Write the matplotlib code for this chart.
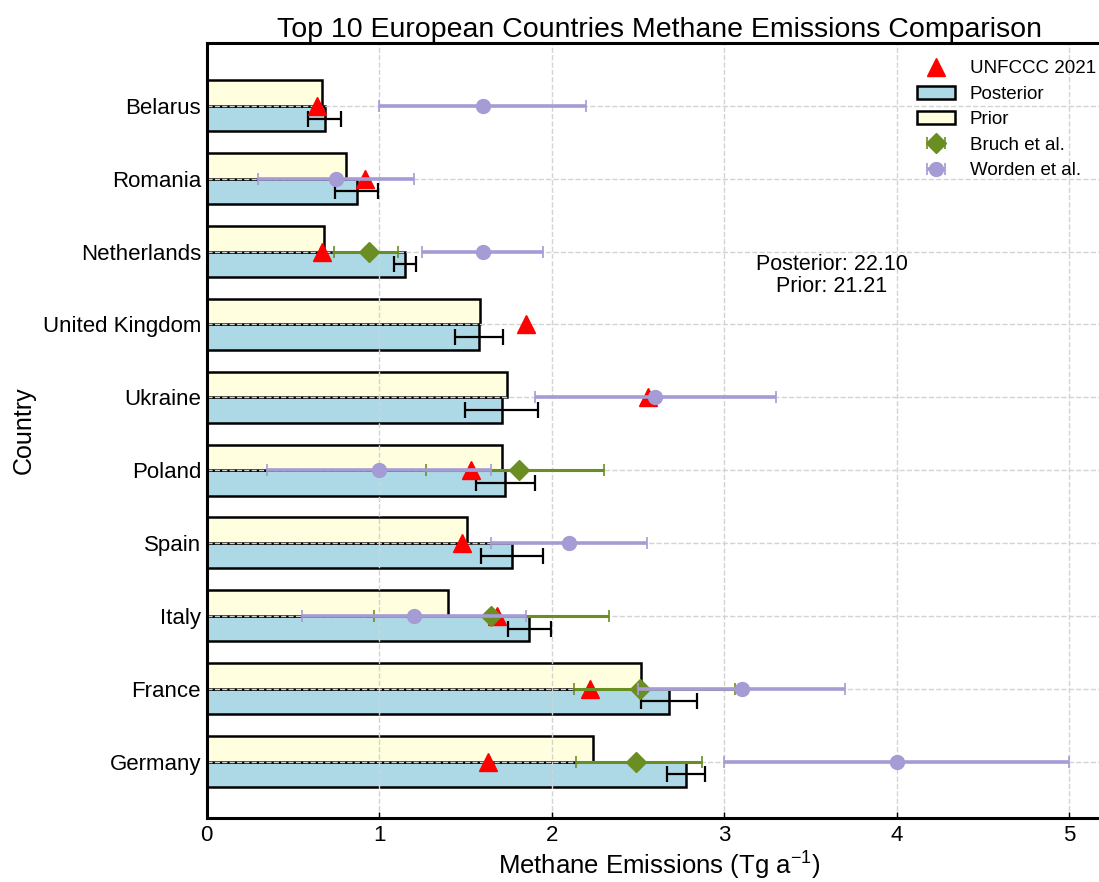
import numpy as np
import matplotlib
matplotlib.use('Agg')
import matplotlib.pyplot as plt

plt.rcParams['font.family'] = ['Liberation Sans', 'DejaVu Sans']
plt.rcParams['mathtext.fontset'] = 'custom'
plt.rcParams['mathtext.rm'] = 'Liberation Sans'
plt.rcParams['mathtext.it'] = 'Liberation Sans:italic'

# ------------------------------------------------------------
# data (bottom -> top)
# ------------------------------------------------------------
countries = ['Germany', 'France', 'Italy', 'Spain', 'Poland',
             'Ukraine', 'United Kingdom', 'Netherlands', 'Romania', 'Belarus']

posterior = [2.78, 2.68, 1.87, 1.77, 1.73, 1.71, 1.58, 1.15, 0.87, 0.685]
posterior_err = [0.11, 0.16, 0.125, 0.18, 0.17, 0.21, 0.14, 0.063, 0.125, 0.095]
prior = [2.24, 2.52, 1.40, 1.51, 1.71, 1.74, 1.585, 0.68, 0.81, 0.67]

unfccc = [1.63, 2.22, 1.68, 1.48, 1.53, 2.555, 1.85, 0.67, 0.92, 0.64]

nan = np.nan
bruch = [2.49, 2.51, 1.65, nan, 1.81, nan, nan, 0.94, nan, nan]
bruch_lo = [0.35, 0.38, 0.68, nan, 0.54, nan, nan, 0.20, nan, nan]
bruch_hi = [0.38, 0.55, 0.68, nan, 0.49, nan, nan, 0.17, nan, nan]

worden = [4.0, 3.1, 1.2, 2.1, 1.0, 2.6, nan, 1.6, 0.75, 1.6]
worden_err = [1.0, 0.6, 0.65, 0.45, 0.65, 0.7, nan, 0.35, 0.45, 0.6]

posterior_total = 22.10
prior_total = 21.21

# ------------------------------------------------------------
# plot
# ------------------------------------------------------------
fig = plt.figure(figsize=(10.99, 8.82), dpi=100)
ax = fig.add_axes([0.188, 0.073, 0.8244, 0.878])

y = np.arange(len(countries))
h = 0.35

post_bars = ax.bar(0, h, width=posterior, bottom=y - h, align='edge', orientation='horizontal',
                   color='lightblue', edgecolor='black', linewidth=1.8, label='Posterior', zorder=1)
prior_bars = ax.bar(0, h, width=prior, bottom=y, align='edge', orientation='horizontal',
                    color='lightyellow', edgecolor='black', linewidth=1.8, label='Prior', zorder=1)

ax.errorbar(posterior, y - h / 2, xerr=posterior_err, fmt='none', ecolor='black',
            elinewidth=1.6, capsize=5.5, capthick=1.6, zorder=3)

tri, = ax.plot(unfccc, y, linestyle='none', marker='^', color='red', markersize=13,
               label='UNFCCC 2021', zorder=4)

br = ax.errorbar(bruch, y, xerr=[bruch_lo, bruch_hi], fmt='D', color='olivedrab',
                 markersize=10, elinewidth=2.2, capsize=4, capthick=1.2,
                 label='Bruch et al.', zorder=5)
wo = ax.errorbar(worden, y, xerr=worden_err, fmt='o', color='#a59bd5',
                 markersize=10, elinewidth=2.6, capsize=4, capthick=1.2,
                 label='Worden et al.', zorder=6)

ax.set_yticks(y)
ax.set_yticklabels(countries, fontsize=16)
ax.set_xticks([0, 1, 2, 3, 4, 5])
ax.tick_params(axis='x', direction='in', labelsize=16, length=4, width=1, pad=5)
ax.tick_params(axis='y', length=0, pad=4)
ax.set_xlim(0, 5.25)
ax.set_ylim(-0.77, 9.86)

for s in ax.spines.values():
    s.set_linewidth(2.2)

ax.grid(True, color='lightgray', linestyle='--', linewidth=1)

ax.set_title('Top 10 European Countries Methane Emissions Comparison', fontsize=20.5, pad=4)
ax.set_xlabel(r'Methane Emissions (Tg a$^{-1}$)', fontsize=18.5, labelpad=3)
ax.set_ylabel('Country', fontsize=18, labelpad=5)

ax.text(0.69, 0.70, 'Posterior: {:.2f}\nPrior: {:.2f}'.format(posterior_total, prior_total),
        transform=ax.transAxes, ha='center', va='center', fontsize=15.5, linespacing=1.05)

ax.legend([tri, post_bars, prior_bars, br, wo],
          ['UNFCCC 2021', 'Posterior', 'Prior', 'Bruch et al.', 'Worden et al.'],
          loc='upper right', frameon=False, fontsize=13.5, labelspacing=0.45)

plt.savefig('out.png', dpi=100)
